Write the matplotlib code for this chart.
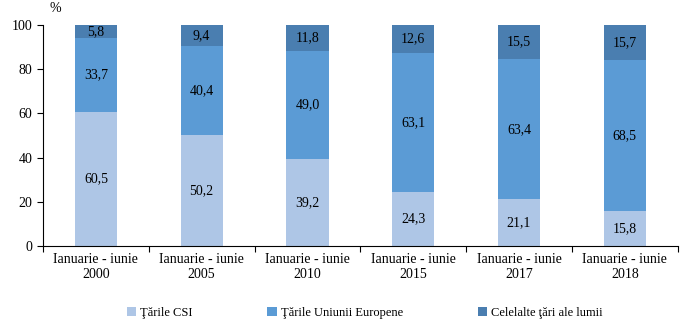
import matplotlib
matplotlib.use('Agg')
import matplotlib.pyplot as plt
import numpy as np

# structura exporturilor pe grupe de tari, %
perioade = ['Ianuarie - iunie\n2000', 'Ianuarie - iunie\n2005', 'Ianuarie - iunie\n2010',
            'Ianuarie - iunie\n2015', 'Ianuarie - iunie\n2017', 'Ianuarie - iunie\n2018']
tari_csi = [60.5, 50.2, 39.2, 24.3, 21.1, 15.8]
tari_ue = [33.7, 40.4, 49.0, 63.1, 63.4, 68.5]
alte_tari = [5.8, 9.4, 11.8, 12.6, 15.5, 15.7]

serii = ['Ţările CSI', 'Ţările Uniunii Europene', 'Celelalte ţări ale lumii']
culori = ['#AEC6E6', '#5B9BD5', '#4A7EB0']

plt.rcParams['font.family'] = ['Liberation Serif', 'DejaVu Serif']
plt.rcParams['font.size'] = 10

fig = plt.figure(figsize=(6.88, 3.24), dpi=100)
ax = fig.add_axes([0.0625, 0.241, 0.9225, 0.682])

x = np.arange(len(perioade))
latime = 0.4
jos = np.zeros(len(perioade))
for valori, nume, culoare in zip([tari_csi, tari_ue, alte_tari], serii, culori):
    valori = np.array(valori)
    ax.bar(x, valori, latime, bottom=jos, color=culoare, label=nume)
    for xi, b, v in zip(x, jos, valori):
        ax.text(xi, b + v / 2, f'{v:.1f}'.replace('.', ','), ha='center', va='center',
                fontsize=10)
    jos = jos + valori

ax.set_xlim(-0.5, len(perioade) - 0.5)
ax.set_ylim(0, 100)
ax.set_yticks([0, 20, 40, 60, 80, 100])
ax.set_xticks(np.arange(-0.5, len(perioade), 1))
ax.set_xticklabels([])
ax.set_xticks(x, minor=True)
ax.set_xticklabels(perioade, minor=True)
ax.tick_params(axis='x', which='minor', length=0, pad=5)
ax.tick_params(axis='x', which='major', length=4, direction='out')
ax.tick_params(axis='y', length=4, direction='out')
ax.spines['top'].set_visible(False)
ax.spines['right'].set_visible(False)

fig.text(0.08, 0.995, '%', ha='center', va='top', fontsize=10)
fig.legend(loc='lower center', bbox_to_anchor=(0.53, -0.02), ncol=3, frameon=False,
           fontsize=9, handlelength=0.75, handleheight=0.75, handletextpad=0.3,
           columnspacing=6.0)

fig.savefig('out.png', dpi=100)
